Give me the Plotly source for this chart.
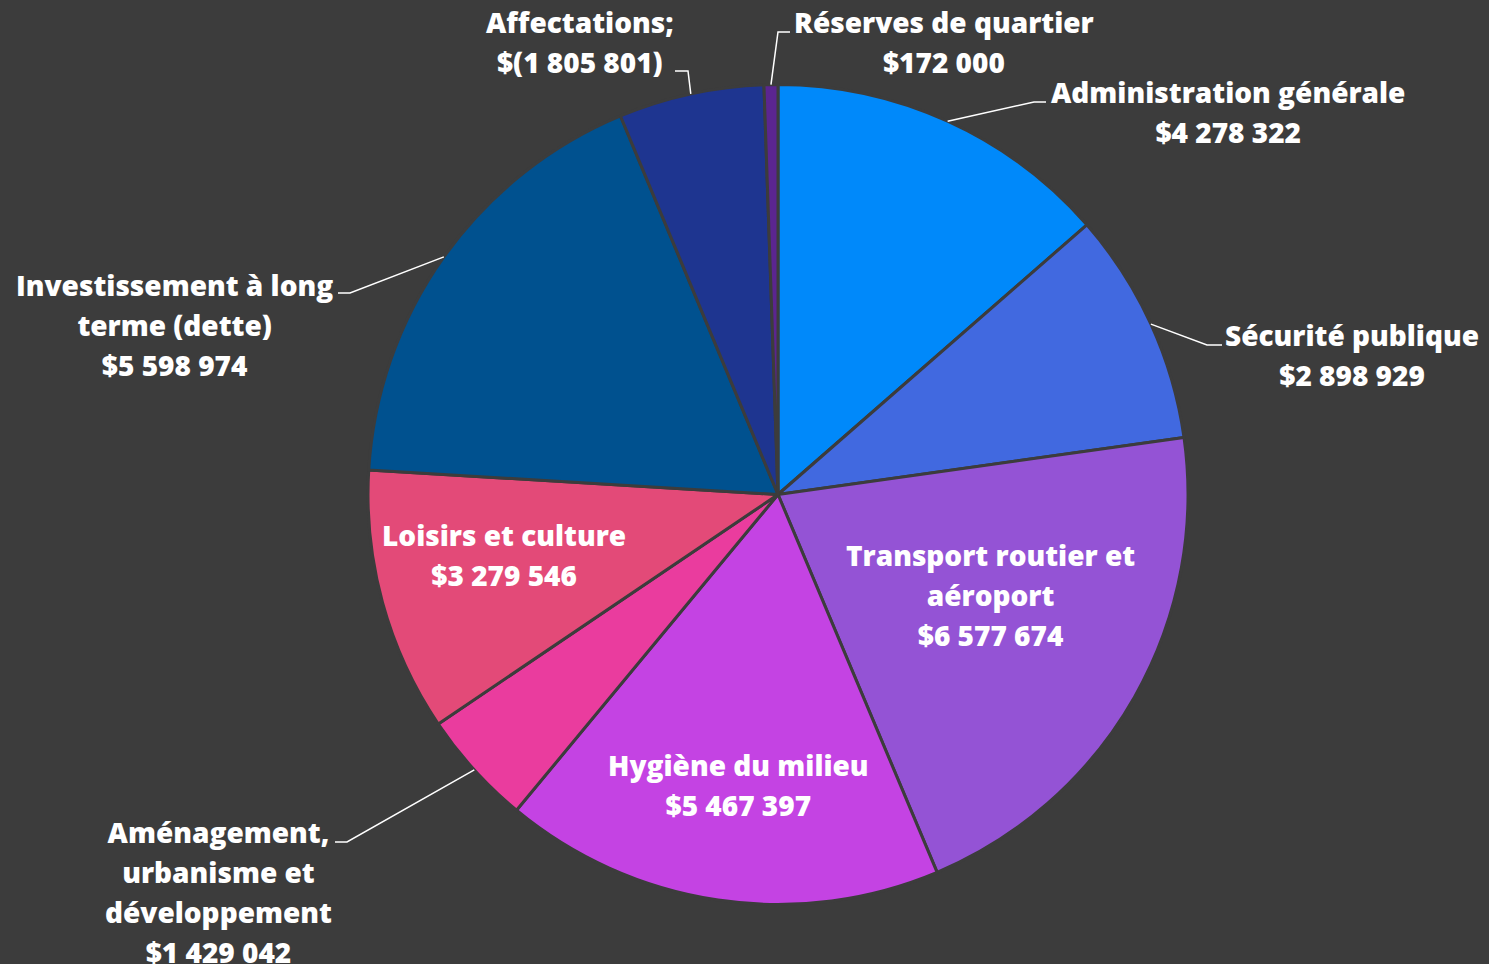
import math
import plotly.graph_objects as go

# ---- data ----
categories = [
    "Administration générale",
    "Sécurité publique",
    "Transport routier et aéroport",
    "Hygiène du milieu",
    "Aménagement, urbanisme et développement",
    "Loisirs et culture",
    "Investissement à long terme (dette)",
    "Affectations",
    "Réserves de quartier",
]
values = [4278322, 2898929, 6577674, 5467397, 1429042, 3279546, 5598974, -1805801, 172000]
label_lines = [
    ["Administration générale"],
    ["Sécurité publique"],
    ["Transport routier et", "aéroport"],
    ["Hygiène du milieu"],
    ["Aménagement,", "urbanisme et", "développement"],
    ["Loisirs et culture"],
    ["Investissement à long", "terme (dette)"],
    ["Affectations;"],
    ["Réserves de quartier"],
]
colors = ["#0089FA", "#4169E0", "#9453D5", "#C443E3", "#EA3C9E",
          "#E34A78", "#00518F", "#1E3590", "#5B2590"]

# ---- layout constants (pixels) ----
W, H = 1489, 964
BG = "#3c3c3c"
CX, CY, R = 778, 494.5, 410
FS = 28          # glyph size
LINE_PX = 40     # line spacing

# label block centres (x, y) in px
label_pos = [
    (1228, 112), (1352, 355), (990, 595), (738, 785), (218, 892),
    (504, 555), (174, 325), (580, 42), (944, 42),
]
# leader lines: (label-side start, elbow) in px, None = inside label
leaders = [
    ((1046, 102), (1034, 102)),
    ((1222, 345), (1207, 345)),
    None, None,
    ((335, 842), (347, 842)),
    None,
    ((338, 293), (350, 293)),
    ((675, 71), (688, 71)),
    ((790, 32), (778, 32)),
]


def fmt(v):
    s = f"{abs(v):,}".replace(",", " ")
    return f"$({s})" if v < 0 else f"${s}"


def px(x, y):
    return x / W, 1 - y / H


abs_vals = [abs(v) for v in values]
total = sum(abs_vals)

fig = go.Figure(go.Pie(
    labels=categories,
    values=abs_vals,
    sort=False,
    direction="clockwise",
    rotation=0,
    textinfo="none",
    hoverinfo="label+value",
    marker=dict(colors=colors, line=dict(color=BG, width=3)),
    domain=dict(x=[(CX - R) / W, (CX + R) / W],
                y=[1 - (CY + R) / H, 1 - (CY - R) / H]),
    showlegend=False,
))

annotations = []
shapes = []
cum = 0.0
for i, v in enumerate(abs_vals):
    mid = (cum + v / 2) / total * 2 * math.pi
    cum += v
    lines = label_lines[i] + [fmt(values[i])]
    text = "<br>".join(f'<span style="font-size:{FS}px">{ln}</span>' for ln in lines)
    lx, ly = px(*label_pos[i])
    annotations.append(dict(
        x=lx, y=ly, xref="paper", yref="paper", text=text, showarrow=False,
        xanchor="center", yanchor="middle", align="center",
        font=dict(family="Open Sans", size=LINE_PX / 1.3, color="white", weight=800),
    ))
    if leaders[i] is not None:
        ax_, ay_ = CX + R * math.sin(mid), CY - R * math.cos(mid)
        (sx, sy), (ex, ey) = leaders[i]
        p = [px(sx, sy), px(ex, ey), px(ax_, ay_)]
        path = "M {} {} L {} {} L {} {}".format(*[c for pt in p for c in pt])
        shapes.append(dict(type="path", path=path, xref="paper", yref="paper",
                           line=dict(color="white", width=1.5)))

fig.update_layout(
    width=W, height=H,
    paper_bgcolor=BG, plot_bgcolor=BG,
    margin=dict(l=0, r=0, t=0, b=0),
    annotations=annotations,
    shapes=shapes,
)

fig.write_html("out.html", config={"displayModeBar": False})

# remove the browser's default page margin so the chart fills the window
with open("out.html", encoding="utf-8") as f:
    html = f.read()
html = html.replace("<head>", "<head><style>html,body{margin:0;padding:0;background:%s;}</style>" % BG, 1)
with open("out.html", "w", encoding="utf-8") as f:
    f.write(html)
